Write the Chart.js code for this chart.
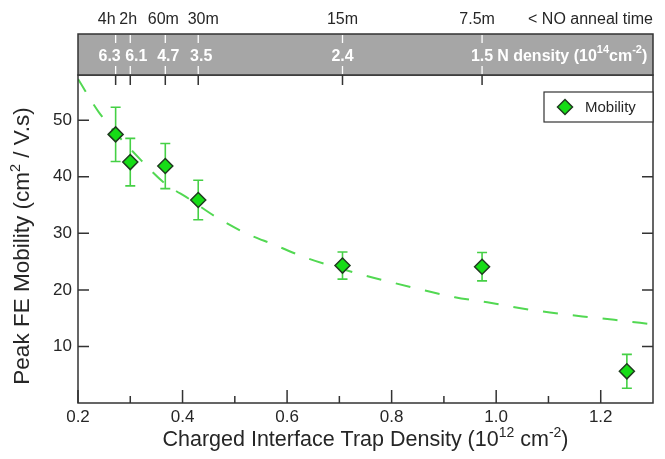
<!DOCTYPE html>
<html><head><meta charset="utf-8">
<script src="https://cdn.jsdelivr.net/npm/chart.js@4/dist/chart.umd.min.js"></script>
<style>html,body{margin:0;padding:0;background:#fff;}</style>
</head><body>
<canvas id="c" width="665" height="459"></canvas>
<script>
// ---- data ----
const trapDensity = [0.272, 0.300, 0.367, 0.430, 0.706, 0.973, 1.250];
const mobility    = [47.5, 42.6, 41.9, 35.9, 24.3, 24.1, 5.6];
const mobilityErr = [4.8, 4.2, 4.0, 3.5, 2.4, 2.5, 3.0];
const nDensityLabels   = ['6.3', '6.1', '4.7', '3.5', '2.4', '1.5'];
const annealTimeLabels = ['4h', '2h', '60m', '30m', '15m', '7.5m'];
const fitX = [0.20, 0.24, 0.32, 0.364, 0.414, 0.464, 0.517, 0.575, 0.636, 0.743, 0.806, 0.864, 0.921, 0.983, 1.044, 1.103, 1.165, 1.226, 1.30];
const fitY = [57.3, 51.4, 43.0, 39.0, 36.0, 32.9, 30.2, 28.0, 25.7, 22.7, 21.2, 19.9, 18.7, 17.8, 16.8, 16.0, 15.3, 14.7, 13.9];
const xMajorTicks = [0.2, 0.4, 0.6, 0.8, 1.0, 1.2];
const xMinorTicks = [0.3, 0.5, 0.7, 0.9, 1.1];
const yTicks = [10, 20, 30, 40, 50];
const xTitleParts = [['Charged Interface Trap Density (10', false], ['12', true], [' cm', false], ['-2', true], [')', false]];
const yTitleParts = [['Peak FE Mobility (cm', false], ['2', true], [' / V.s)', false]];
const bandUnitParts = [['N density (10', false], ['14', true], ['cm', false], ['-2', true], [')', false]];

const FONT = "'Liberation Sans', Arial, sans-serif";
const TEXT = '#262626';
const FRAME = '#333333';

function richWidth(ctx, parts, size, sup, weight) {
  let w = 0;
  parts.forEach(([s, isSup]) => { ctx.font = weight + (isSup ? sup : size) + 'px ' + FONT; w += ctx.measureText(s).width; });
  return w;
}
function drawRich(ctx, parts, x, y, size, sup, weight, raise) {
  ctx.textAlign = 'left';
  ctx.textBaseline = 'middle';
  parts.forEach(([s, isSup]) => {
    ctx.font = weight + (isSup ? sup : size) + 'px ' + FONT;
    ctx.fillText(s, x, isSup ? y - raise : y);
    x += ctx.measureText(s).width;
  });
  return x;
}

const errorBars = {
  id: 'errorBars',
  beforeDatasetDraw(chart, args) {
    if (args.index !== 0) return;
    const {ctx, scales: {x, y}} = chart;
    ctx.save();
    ctx.strokeStyle = '#45d045';
    ctx.lineWidth = 1.6;
    ctx.beginPath();
    trapDensity.forEach((v, i) => {
      const px = x.getPixelForValue(v);
      const t = y.getPixelForValue(mobility[i] + mobilityErr[i]);
      const b = y.getPixelForValue(mobility[i] - mobilityErr[i]);
      ctx.moveTo(px, t); ctx.lineTo(px, b);
      ctx.moveTo(px - 5, t); ctx.lineTo(px + 5, t);
      ctx.moveTo(px - 5, b); ctx.lineTo(px + 5, b);
    });
    ctx.stroke();
    ctx.restore();
  }
};

const frame = {
  id: 'frame',
  afterDraw(chart) {
    const {ctx, chartArea: a, scales: {x, y}} = chart;
    ctx.save();
    ctx.strokeStyle = FRAME;
    ctx.lineWidth = 1.5;
    ctx.strokeRect(a.left, a.top, a.right - a.left, a.bottom - a.top);
    ctx.beginPath();
    xMajorTicks.forEach(v => { const p = x.getPixelForValue(v); ctx.moveTo(p, a.bottom); ctx.lineTo(p, a.bottom - 13); });
    xMinorTicks.forEach(v => { const p = x.getPixelForValue(v); ctx.moveTo(p, a.bottom); ctx.lineTo(p, a.bottom - 7); });
    yTicks.forEach(v => {
      const p = y.getPixelForValue(v);
      ctx.moveTo(a.left, p); ctx.lineTo(a.left + 11, p);
      ctx.moveTo(a.right, p); ctx.lineTo(a.right - 11, p);
    });
    const bandX = trapDensity.slice(0, nDensityLabels.length).map(v => x.getPixelForValue(v));
    bandX.forEach(p => { ctx.moveTo(p, a.top); ctx.lineTo(p, a.top + 10); });
    ctx.stroke();

    // ---- axis titles ----
    ctx.fillStyle = TEXT;
    const xw = richWidth(ctx, xTitleParts, 21.5, 14, '');
    drawRich(ctx, xTitleParts, (a.left + a.right) / 2 - xw / 2, 440, 21.5, 14, '', 7);
    const yw = richWidth(ctx, yTitleParts, 22.5, 14.5, '');
    ctx.save();
    ctx.translate(23, 246);
    ctx.rotate(-Math.PI / 2);
    drawRich(ctx, yTitleParts, -yw / 2, 0, 22.5, 14.5, '', 7);
    ctx.restore();

    // ---- top band ----
    const bTop = 34, bBot = a.top;
    ctx.fillStyle = '#a6a6a6';
    ctx.fillRect(a.left, bTop, a.right - a.left, bBot - bTop);
    ctx.strokeStyle = FRAME;
    ctx.lineWidth = 1.5;
    ctx.strokeRect(a.left, bTop, a.right - a.left, bBot - bTop);
    ctx.strokeStyle = '#ffffff';
    ctx.lineWidth = 1.3;
    ctx.beginPath();
    bandX.forEach(p => {
      ctx.moveTo(p, bTop + 1); ctx.lineTo(p, bTop + 9);
      ctx.moveTo(p, bBot - 9); ctx.lineTo(p, bBot - 1);
    });
    ctx.stroke();

    const nudge = [-6, 6, 3, 3, 0, 0];
    const bMid = (bTop + bBot) / 2 + 2;
    ctx.fillStyle = '#ffffff';
    ctx.textBaseline = 'middle';
    ctx.font = 'bold 16px ' + FONT;
    ctx.textAlign = 'center';
    nDensityLabels.forEach((t, i) => ctx.fillText(t, bandX[i] + nudge[i], bMid));
    const last = nDensityLabels.length - 1;
    ctx.font = 'bold 16px ' + FONT;
    const cx = bandX[last] + nudge[last] + ctx.measureText(nDensityLabels[last]).width / 2 + 4;
    drawRich(ctx, bandUnitParts, cx, bMid, 16, 11, 'bold ', 7);

    // anneal time labels
    ctx.fillStyle = TEXT;
    ctx.font = '16px ' + FONT;
    ctx.textAlign = 'center';
    ctx.textBaseline = 'middle';
    const anudge = [-9, -2, -2, 5, 0, -5];
    annealTimeLabels.forEach((t, i) => ctx.fillText(t, bandX[i] + anudge[i], 20));
    ctx.textAlign = 'right';
    ctx.fillText('< NO anneal time', a.right, 20);

    // ---- legend box ----
    const lx = 544, ly = 92, lw = a.right - 544, lh = 30;
    ctx.fillStyle = '#ffffff';
    ctx.fillRect(lx, ly, lw, lh);
    ctx.strokeStyle = FRAME;
    ctx.lineWidth = 1.2;
    ctx.strokeRect(lx, ly, lw, lh);
    const ds = chart.data.datasets[0];
    ctx.fillStyle = ds.pointBackgroundColor;
    ctx.strokeStyle = ds.pointBorderColor;
    ctx.lineWidth = 1.5;
    Chart.helpers.drawPoint(ctx, {pointStyle: 'rectRot', radius: 7.5, borderWidth: 1.5}, lx + 21, ly + lh / 2);
    ctx.fillStyle = TEXT;
    ctx.font = '15px ' + FONT;
    ctx.textAlign = 'left';
    ctx.textBaseline = 'middle';
    ctx.fillText(ds.label, lx + 41, ly + lh / 2 + 1);
    ctx.restore();
  }
};

new Chart(document.getElementById('c'), {
  type: 'scatter',
  data: {
    datasets: [
      {
        label: 'Mobility',
        data: trapDensity.map((v, i) => ({x: v, y: mobility[i]})),
        pointStyle: 'rectRot',
        pointRadius: 7.5,
        pointBackgroundColor: '#16dc16',
        pointBorderColor: '#1f3b1f',
        pointBorderWidth: 1.5,
        showLine: false,
        order: 0
      },
      {
        label: 'Fit',
        type: 'line',
        data: fitX.map((v, i) => ({x: v, y: fitY[i]})),
        borderColor: '#52d852',
        borderWidth: 2,
        borderDash: [15, 15],
        pointRadius: 0,
        fill: false,
        cubicInterpolationMode: 'monotone',
        order: 1
      }
    ]
  },
  options: {
    responsive: false,
    animation: false,
    layout: {padding: {top: 75, right: 12, left: 0, bottom: 0}},
    plugins: {legend: {display: false}, tooltip: {enabled: false}},
    scales: {
      x: {
        type: 'linear', min: 0.2, max: 1.3,
        afterBuildTicks: s => { s.ticks = xMajorTicks.map(v => ({value: v})); },
        afterFit: s => { s.height = 56; },
        ticks: {callback: v => Number(v).toFixed(1), font: {family: FONT, size: 17}, color: TEXT, padding: 4, maxRotation: 0, autoSkip: false},
        grid: {display: false, drawTicks: false},
        border: {display: false}
      },
      y: {
        type: 'linear', min: 0, max: 58,
        afterBuildTicks: s => { s.ticks = yTicks.map(v => ({value: v})); },
        afterFit: s => { s.width = 78; },
        ticks: {font: {family: FONT, size: 17}, color: TEXT, padding: 6},
        grid: {display: false, drawTicks: false},
        border: {display: false}
      }
    }
  },
  plugins: [errorBars, frame]
});
</script>
</body></html>
